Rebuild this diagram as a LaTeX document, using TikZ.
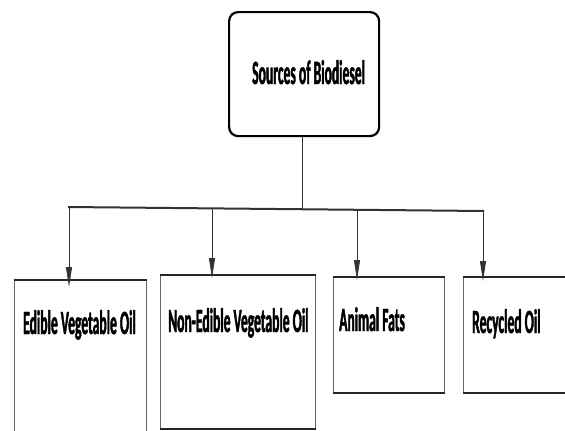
\documentclass[tikz,border=0pt]{standalone}
\usepackage{fontspec}
\newfontfamily\lblfont{Carlito Bold}[FakeStretch=0.40, FakeBold=1.2]
\usetikzlibrary{arrows.meta}
\tikzset{
  srcbox/.style={draw=black, line width=2.2pt, rounded corners=9pt, minimum width=150pt, minimum height=124pt, inner sep=0pt},
  catbox/.style={draw=black!60, line width=1pt, inner sep=0pt},
  edge/.style={draw=black!85, line width=2pt},
  lbl/.style={font=\fontsize{34}{36}\selectfont\lblfont, inner sep=0pt, anchor=base west},
  bus/.style={draw=black!80, line width=2pt},
  arr/.style={draw=black!80, line width=0.8pt, -{Triangle[length=20pt,width=6pt]}},
}
\begin{document}
\begin{tikzpicture}[x=1pt,y=1pt]
\useasboundingbox (0,0) rectangle (565,-431);
\clip (0,0) rectangle (565,-431);
% top box
\node[srcbox, anchor=north west] (src) at (228,-11) {};
\node[lbl] (srct) at (252,-84) {Sources of Biodiesel};
% category boxes
\node[catbox, anchor=north west, minimum width=132pt, minimum height=170pt] (b1) at (14,-280) {};
\node[catbox, anchor=north west, minimum width=155pt, minimum height=153pt] (b2) at (160,-275) {};
\node[catbox, anchor=north west, minimum width=111pt, minimum height=115pt] (b3) at (333,-277) {};
\node[catbox, anchor=north west, minimum width=120pt, minimum height=115pt] (b4) at (463,-277) {};
\foreach \b in {b1,b2,b3,b4}{
  \draw[edge] (\b.north west) -- (\b.north east);
  \draw[edge] (\b.south west) -- (\b.south east);
}
\node[lbl] (t1) at (23,-334) {Edible Vegetable Oil};
\node[lbl] (t2) at (168,-332) {Non-Edible Vegetable Oil};
\node[lbl] (t3) at (339,-331) {Animal Fats};
\node[lbl] (t4) at (472,-333) {Recycled Oil};
% connectors
\coordinate (busL) at (68,-207);
\coordinate (busR) at (484,-211);
\coordinate (busM) at (302,-209);
\draw[draw=black!80, line width=0.8pt] (src.south -| busM) -- (busM);
\draw[bus] (busL) -- (busR);
\coordinate (a1) at (69,-207.5);
\coordinate (a2) at (212,-208.5);
\coordinate (a3) at (357,-210);
\coordinate (a4) at (483,-211);
\draw[arr] (a1) -- ([yshift=-7pt]a1 |- b1.north);
\draw[arr] (a2) -- ([yshift=-3pt]a2 |- b2.north);
\draw[arr] (a3) -- ([yshift=-3pt]a3 |- b3.north);
\draw[arr] (a4) -- ([yshift=-4pt]a4 |- b4.north);
\end{tikzpicture}
\end{document}
